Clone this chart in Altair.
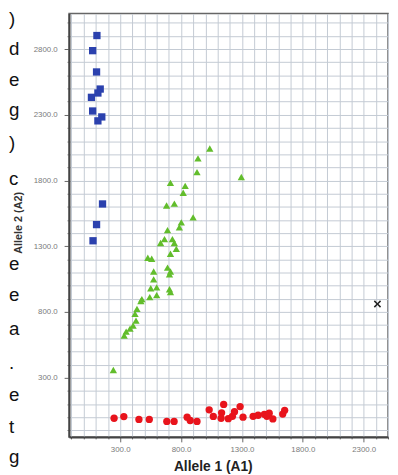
import altair as alt
import pandas as pd

# ---- data ----
blue_x = [109, 74, 106, 136, 117, 64, 74, 149, 117, 155, 106, 77]
blue_y = [2903, 2788, 2626, 2496, 2466, 2433, 2329, 2284, 2254, 1622, 1465, 1342]

green_x = [1036, 939, 931, 1295, 713, 834, 818, 681, 745, 899, 802, 786, 689, 664,
           729, 632, 745, 761, 713, 527, 559, 689, 713, 575, 705, 575, 551, 600,
           705, 713, 600, 543, 478, 470, 438, 422, 430, 381, 349, 333, 244, 406]
green_y = [2044, 1969, 1864, 1827, 1782, 1760, 1707, 1610, 1625, 1520, 1482, 1445, 1423, 1355,
           1355, 1325, 1325, 1280, 1243, 1213, 1205, 1138, 1108, 1108, 1086, 1048, 981, 988,
           973, 951, 928, 913, 898, 883, 824, 786, 734, 674, 651, 621, 359, 696]

red_x = [250, 330, 454, 539, 683, 743, 850, 875, 931, 1031, 1065, 1150, 1133, 1129,
         1188, 1222, 1239, 1285, 1309, 1392, 1433, 1484, 1505, 1524, 1554, 1635, 1651]
red_y = [-8, 5, -17, -17, -32, -32, 0, -25, -32, 56, 6, 97, 33, -8,
         -11, 7, 42, 81, 0, 7, 15, 22, 7, 30, -13, 24, 52]

undet_x = [2413]
undet_y = [861]

groups = ["A2A2", "A1A2", "A1A1", "Undetermined"]
colors = ["#2b41ae", "#62bd2c", "#e8141c", "#222222"]
x_shape = ("M-1,-0.7L-0.7,-1L0,-0.3L0.7,-1L1,-0.7L0.3,0L1,0.7L0.7,1L0,0.3"
           "L-0.7,1L-1,0.7L-0.3,0Z")
shapes = ["square", "triangle-up", "circle", x_shape]

x_ticks = [300, 800, 1300, 1800, 2300]
y_ticks = [300, 800, 1300, 1800, 2300, 2800]

# fragments of the neighbouring page text seen at the left edge
edge_chars = [")", "d", "e", "g", ")", "c", "e", "e", "a", ".", "e", "t", "g"]
edge_rows = [16, 46, 78, 108, 142, 178, 264, 296, 330, 365, 398, 430, 460]

rows = []
for g, xs, ys in zip(groups, [blue_x, green_x, red_x, undet_x], [blue_y, green_y, red_y, undet_y]):
    rows += [{"a1": a, "a2": b, "grp": g} for a, b in zip(xs, ys)]
df = pd.DataFrame(rows)

grid_x = list(range(-100, 2501, 100))
grid_y = list(range(-100, 3001, 100))

major_x = "indexof(%s, datum.value) >= 0" % str(x_ticks)
major_y = "indexof(%s, datum.value) >= 0" % str(y_ticks)

x_axis = alt.Axis(
    values=grid_x,
    labelExpr="(%s) ? format(datum.value, '.1f') : ''" % major_x,
    tickSize={"condition": {"test": major_x, "value": 5}, "value": 2},
    grid=True, gridColor="#c3cad3", gridWidth=1,
    domainColor="#444", domainWidth=2, tickColor="#666",
    labelFontSize=8, labelColor="#7a7a7a", labelPadding=4, labelFont="Liberation Sans",
    title="Allele 1 (A1)", titleFontSize=14, titleFontWeight="bold", titleColor="#222",
    titleFont="Liberation Sans", titleX=146, titleY=34, titleAlign="center",
    titleBaseline="alphabetic", labelFlush=False,
)
y_axis = alt.Axis(
    values=grid_y,
    labelExpr="(%s) ? format(datum.value, '.1f') : ''" % major_y,
    tickSize={"condition": {"test": major_y, "value": 5}, "value": 2},
    grid=True, gridColor="#c3cad3", gridWidth=1,
    domainColor="#444", domainWidth=2, tickColor="#666",
    labelFontSize=8, labelColor="#7a7a7a", labelPadding=7, labelFont="Liberation Sans",
    title="Allele 2 (A2)", titleFontSize=11, titleFontWeight="bold", titleColor="#333",
    titleFont="Liberation Sans", titleX=-51, titleY=212, titleAngle=270,
    titleAlign="center", titleBaseline="middle", labelFlush=False,
)

points = alt.Chart(df).mark_point(filled=True, opacity=1, strokeWidth=0).encode(
    x=alt.X("a1:Q", scale=alt.Scale(domain=[-120, 2500], nice=False, zero=False), axis=x_axis),
    y=alt.Y("a2:Q", scale=alt.Scale(domain=[-150, 3070], nice=False, zero=False), axis=y_axis),
    color=alt.Color("grp:N", scale=alt.Scale(domain=groups, range=colors), legend=None),
    shape=alt.Shape("grp:N", scale=alt.Scale(domain=groups, range=shapes), legend=None),
    size=alt.Size("grp:N", scale=alt.Scale(domain=groups, range=[55, 55, 40, 30]), legend=None),
)

layers = [points]
for ch, r in zip(edge_chars, edge_rows):
    layers.append(
        alt.Chart(pd.DataFrame({"t": [ch]})).mark_text(
            align="left", baseline="middle", fontSize=19, font="Liberation Sans", color="#111"
        ).encode(text="t:N", x=alt.value(-61), y=alt.value(r - 10))
    )

chart = alt.layer(*layers).properties(
    width=324, height=430,
    autosize=alt.AutoSizeParams(type="none"),
    padding={"left": 62, "top": 2, "right": 2, "bottom": 35},
    background="white",
).configure_view(stroke="#666", strokeWidth=1.5)

chart.save("out.html", embed_options={"renderer": "svg", "actions": False})
